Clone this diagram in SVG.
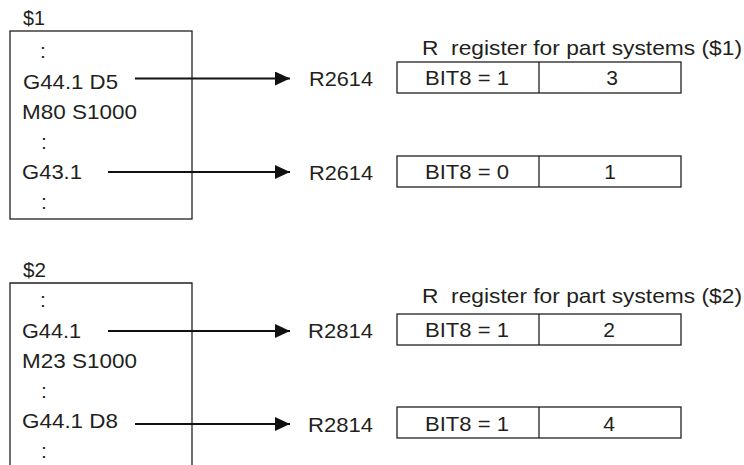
<svg xmlns="http://www.w3.org/2000/svg" width="744" height="465" viewBox="0 0 744 465">
<style>
text{font-family:"Liberation Sans",Arial,sans-serif;font-size:21px;fill:#231f20;}
.pre{white-space:pre;}
.mid{text-anchor:middle;}
.box{fill:none;stroke:#231f20;stroke-width:1.3;}
.conn{stroke:#111;stroke-width:2;fill:none;marker-end:url(#ah);}
</style>
<defs>
<marker id="ah" markerUnits="userSpaceOnUse" markerWidth="15" markerHeight="14" refX="15" refY="7" orient="auto">
<path d="M0,0 L15,7 L0,14 z" fill="#111"/>
</marker>
</defs>
<rect width="744" height="465" fill="#fff"/>

<g id="prog1">
<text x="23" y="25" textLength="22" lengthAdjust="spacingAndGlyphs">$1</text>
<rect class="box" x="10" y="31" width="182" height="188"/>
<text x="40" y="58">:</text>
<text x="23" y="89" textLength="95" lengthAdjust="spacingAndGlyphs">G44.1 D5</text>
<text x="22" y="119" textLength="115" lengthAdjust="spacingAndGlyphs">M80 S1000</text>
<text x="41" y="149">:</text>
<text x="22" y="179" textLength="60" lengthAdjust="spacingAndGlyphs">G43.1</text>
<text x="41" y="209">:</text>
</g>

<g id="prog2">
<text x="23" y="277" textLength="23" lengthAdjust="spacingAndGlyphs">$2</text>
<path class="box" d="M10,465 V283 H192 V465"/>
<text x="40" y="307">:</text>
<text x="22" y="338" textLength="59" lengthAdjust="spacingAndGlyphs">G44.1</text>
<text x="22" y="368" textLength="115" lengthAdjust="spacingAndGlyphs">M23 S1000</text>
<text x="41" y="398">:</text>
<text x="22" y="428" textLength="96" lengthAdjust="spacingAndGlyphs">G44.1 D8</text>
<text x="41" y="458">:</text>
</g>

<g id="reg1">
<text class="pre" x="422" y="55" textLength="320" lengthAdjust="spacingAndGlyphs">R  register for part systems ($1)</text>
</g>

<g id="reg1a">
<text x="309" y="86" textLength="64" lengthAdjust="spacingAndGlyphs">R2614</text>
<rect class="box" x="397" y="62" width="284" height="31"/>
<line class="box" x1="539" y1="62" x2="539" y2="93"/>
<text x="425" y="85" textLength="84" lengthAdjust="spacingAndGlyphs">BIT8 = 1</text>
<text class="mid" x="612" y="85">3</text>
</g>

<g id="reg1b">
<text x="309" y="180" textLength="64" lengthAdjust="spacingAndGlyphs">R2614</text>
<rect class="box" x="397" y="156" width="284" height="31"/>
<line class="box" x1="539" y1="156" x2="539" y2="187"/>
<text x="425" y="179" textLength="84" lengthAdjust="spacingAndGlyphs">BIT8 = 0</text>
<text class="mid" x="610" y="179">1</text>
</g>

<g id="reg2">
<text class="pre" x="422" y="303" textLength="320" lengthAdjust="spacingAndGlyphs">R  register for part systems ($2)</text>
</g>

<g id="reg2a">
<text x="308" y="338" textLength="65" lengthAdjust="spacingAndGlyphs">R2814</text>
<rect class="box" x="397" y="314" width="284" height="31"/>
<line class="box" x1="539" y1="314" x2="539" y2="345"/>
<text x="425" y="337" textLength="84" lengthAdjust="spacingAndGlyphs">BIT8 = 1</text>
<text class="mid" x="609" y="337">2</text>
</g>

<g id="reg2b">
<text x="308" y="432" textLength="65" lengthAdjust="spacingAndGlyphs">R2814</text>
<rect class="box" x="397" y="407" width="284" height="31"/>
<line class="box" x1="539" y1="407" x2="539" y2="438"/>
<text x="425" y="431" textLength="84" lengthAdjust="spacingAndGlyphs">BIT8 = 1</text>
<text class="mid" x="609" y="431">4</text>
</g>

<g id="connectors">
<line class="conn" x1="135" y1="78.5" x2="290" y2="78.5"/>
<line class="conn" x1="108" y1="172" x2="290" y2="172"/>
<line class="conn" x1="108" y1="331" x2="290" y2="331"/>
<line class="conn" x1="135" y1="424" x2="290" y2="424"/>
</g>
</svg>
